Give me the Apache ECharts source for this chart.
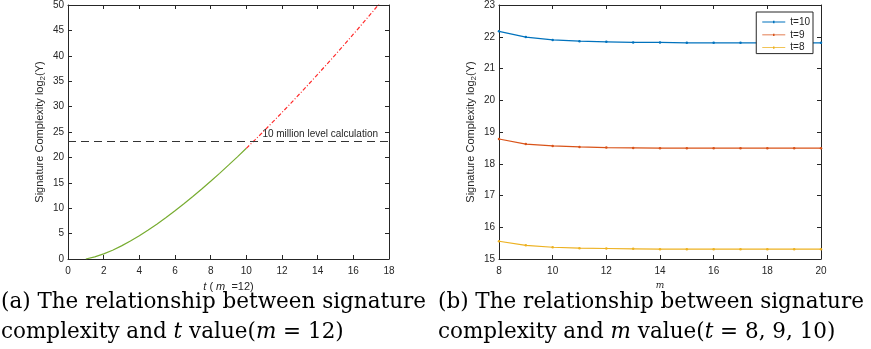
<!DOCTYPE html>
<html>
<head>
<meta charset="utf-8">
<script src="https://cdn.jsdelivr.net/npm/echarts@6/dist/echarts.min.js"></script>
<style>html,body{margin:0;padding:0;background:#fff;}#c{width:871px;height:349px;}</style>
</head>
<body>
<div id="c"></div>
<script>
// Left panel: t vs complexity (m = 12)
var tGreen = [1, 1.5, 2, 2.5, 3, 3.5, 4, 4.5, 5, 5.5, 6, 6.5, 7, 7.5, 8, 8.5, 9, 9.5, 10];
var yGreen = [0, 0.41, 1.0, 1.73, 2.58, 3.54, 4.58, 5.71, 6.91, 8.17, 9.49, 10.87, 12.3, 13.78, 15.3, 16.86, 18.47, 20.11, 21.79];
var tRed = [10, 10.5, 11, 11.5, 12, 12.5, 13, 13.5, 14, 14.5, 15, 15.5, 16, 16.5, 17, 17.5];
var yRed = [21.79, 23.5, 25.25, 27.03, 28.84, 30.67, 32.54, 34.43, 36.34, 38.29, 40.25, 42.24, 44.25, 46.28, 48.34, 50.41];
var thresholdY = 23.25;
var thresholdLabel = '10 million level calculation';
var leftXTicks = {min: 0, max: 18, interval: 2};
var leftYTicks = {min: 0, max: 50, interval: 5};

// Right panel: m vs complexity
var mVals = [8, 9, 10, 11, 12, 13, 14, 15, 16, 17, 18, 19, 20];
var t10 = [22.17, 21.99, 21.9, 21.86, 21.84, 21.82, 21.82, 21.81, 21.81, 21.81, 21.81, 21.81, 21.81];
var t9 = [18.78, 18.62, 18.56, 18.53, 18.51, 18.5, 18.49, 18.49, 18.49, 18.49, 18.49, 18.49, 18.49];
var t8 = [15.56, 15.43, 15.37, 15.34, 15.33, 15.32, 15.31, 15.31, 15.31, 15.31, 15.31, 15.31, 15.31];
var seriesNames = ['t=10', 't=9', 't=8'];
var rightXTicks = {min: 8, max: 20, interval: 2};
var rightYTicks = {min: 15, max: 23, interval: 1};

function zip(a, b) { return a.map(function (v, i) { return [v, b[i]]; }); }

var AX = '#262626';
var FONT = 'Liberation Sans';
function xAx(grid, t, pos, extra) {
  var o = {
    type: 'value', gridIndex: grid, position: pos, min: t.min, max: t.max, interval: t.interval,
    axisLine: {show: true, onZero: false, lineStyle: {color: AX, width: 1}},
    axisTick: {show: true, inside: true, length: 4, lineStyle: {color: AX}},
    axisLabel: {show: pos === 'bottom', color: AX, fontSize: 10, fontFamily: FONT, margin: 7},
    splitLine: {show: false}
  };
  for (var k in extra) o[k] = extra[k];
  return o;
}
function yAx(grid, t, pos, extra) {
  var o = {
    type: 'value', gridIndex: grid, position: pos, min: t.min, max: t.max, interval: t.interval,
    axisLine: {show: true, onZero: false, lineStyle: {color: AX, width: 1}},
    axisTick: {show: true, inside: true, length: 4, lineStyle: {color: AX}},
    axisLabel: {show: pos === 'left', color: AX, fontSize: 10, fontFamily: FONT, margin: 4},
    splitLine: {show: false}
  };
  for (var k in extra) o[k] = extra[k];
  return o;
}
var yName = '{a|Signature Complexity log}{s|2}{a|(Y)}';
var yNameStyle = {
  color: AX, fontFamily: FONT, fontSize: 11,
  rich: {a: {fontSize: 11, fontFamily: FONT, color: AX}, s: {fontSize: 8, fontFamily: FONT, color: AX, padding: [6, 0, 0, 0]}}
};
var CAPF = 21.5;
var capStyle = {
  fontFamily: 'DejaVu Serif', fontSize: CAPF, color: '#000', fontWeight: 'normal', lineHeight: 30.5,
  rich: {
    r: {fontFamily: 'DejaVu Serif', fontSize: CAPF, color: '#000', lineHeight: 30.5},
    i: {fontFamily: 'DejaVu Serif', fontStyle: 'italic', fontSize: CAPF, color: '#000', lineHeight: 30.5}
  }
};
var legendIcon = 'path://M0,4.5L30,4.5L30,5.5L0,5.5Z M14,3.5L16,3.5L16,6.5L14,6.5Z';

var chart = echarts.init(document.getElementById('c'), null, {renderer: 'canvas'});
chart.setOption({
  animation: false,
  backgroundColor: '#fff',
  title: [
    {left: 1, top: 287, text: '{r|(a) The relationship between signature}\n{r|complexity and }{i|t}{r| value(}{i|m}{r| = 12)}', textStyle: capStyle, padding: 0},
    {left: 438, top: 287, text: '{r|(b) The relationship between signature}\n{r|complexity and }{i|m}{r| value(}{i|t}{r| = 8, 9, 10)}', textStyle: capStyle, padding: 0}
  ],
  grid: [
    {left: 68, right: 482, top: 5, bottom: 90},
    {left: 499, right: 50, top: 5, bottom: 90}
  ],
  legend: {
    data: seriesNames.map(function (n) { return {name: n, icon: legendIcon}; }),
    orient: 'vertical', right: 58, top: 12,
    itemWidth: 23, itemHeight: 8, itemGap: 2.8, padding: [5, 3, 1, 6],
    borderColor: AX, borderWidth: 1, backgroundColor: '#fff',
    textStyle: {color: AX, fontSize: 10, fontFamily: FONT}
  },
  xAxis: [
    xAx(0, leftXTicks, 'bottom', {
      name: '{i|t}{r| ( }{i|m}{r|  =12)}', nameLocation: 'middle', nameGap: 22,
      nameTextStyle: {rich: {i: {fontFamily: FONT, fontStyle: 'italic', fontSize: 11, color: AX}, r: {fontFamily: FONT, fontSize: 11, color: AX}}}
    }),
    xAx(0, leftXTicks, 'top', {}),
    xAx(1, rightXTicks, 'bottom', {
      name: 'm', nameLocation: 'middle', nameGap: 22,
      nameTextStyle: {fontFamily: 'DejaVu Serif', fontStyle: 'italic', fontSize: 9, color: AX}
    }),
    xAx(1, rightXTicks, 'top', {})
  ],
  yAxis: [
    yAx(0, leftYTicks, 'left', {name: yName, nameLocation: 'middle', nameGap: 21, nameTextStyle: yNameStyle}),
    yAx(0, leftYTicks, 'right', {}),
    yAx(1, rightYTicks, 'left', {name: yName, nameLocation: 'middle', nameGap: 21, nameTextStyle: yNameStyle}),
    yAx(1, rightYTicks, 'right', {})
  ],
  series: [
    {
      type: 'line', xAxisIndex: 0, yAxisIndex: 0, data: zip(tGreen, yGreen), showSymbol: false,
      lineStyle: {color: '#77AC30', width: 1.2}, itemStyle: {color: '#77AC30'}, z: 3,
      markLine: {
        silent: true, symbol: ['none', 'none'],
        lineStyle: {color: '#333', type: [8, 5], width: 1.2},
        label: {show: true, position: 'insideEndTop', formatter: thresholdLabel, color: AX, fontSize: 10, fontFamily: FONT, distance: [11, 2]},
        data: [{yAxis: thresholdY}]
      }
    },
    {
      type: 'line', xAxisIndex: 0, yAxisIndex: 0, data: zip(tRed, yRed), showSymbol: false, clip: true,
      lineStyle: {color: '#FF2A2A', width: 1.2, type: [4, 2, 1, 2]}, z: 3
    },
    {
      name: seriesNames[0], type: 'line', xAxisIndex: 2, yAxisIndex: 2, data: zip(mVals, t10),
      symbol: 'circle', symbolSize: 2.5, color: '#0072BD', lineStyle: {color: '#0072BD', width: 1.2}, itemStyle: {color: '#0072BD'}
    },
    {
      name: seriesNames[1], type: 'line', xAxisIndex: 2, yAxisIndex: 2, data: zip(mVals, t9),
      symbol: 'circle', symbolSize: 2.5, color: '#D95319', lineStyle: {color: '#D95319', width: 1.2}, itemStyle: {color: '#D95319'}
    },
    {
      name: seriesNames[2], type: 'line', xAxisIndex: 2, yAxisIndex: 2, data: zip(mVals, t8),
      symbol: 'circle', symbolSize: 2.5, color: '#EDB120', lineStyle: {color: '#EDB120', width: 1.2}, itemStyle: {color: '#EDB120'}
    }
  ]
});
</script>
</body>
</html>
